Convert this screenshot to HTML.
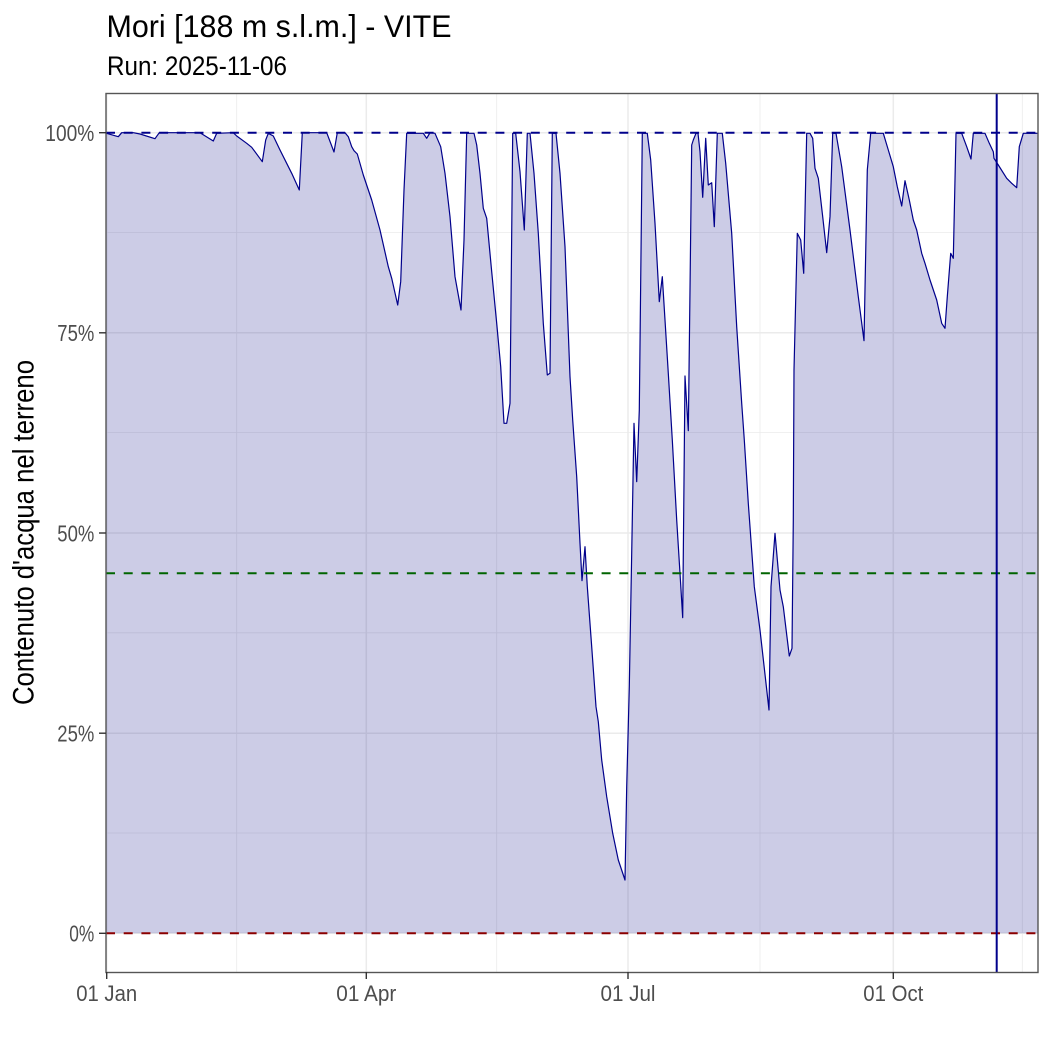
<!DOCTYPE html>
<html>
<head>
<meta charset="utf-8">
<style>
  html, body { margin:0; padding:0; background:#ffffff; }
  svg { display:block; }
  text { font-family: "Liberation Sans", "DejaVu Sans", sans-serif; }
</style>
</head>
<body>
<svg width="1050" height="1050" viewBox="0 0 1050 1050" xmlns="http://www.w3.org/2000/svg">
  <rect x="0" y="0" width="1050" height="1050" fill="#ffffff"/>
  <defs>
    <clipPath id="panel"><rect x="106" y="93" width="932" height="879"/></clipPath>
  </defs>

  <!-- grid -->
  <g stroke="#ebebeb" fill="none">
    <g stroke-width="0.8">
      <line x1="106" y1="232.4" x2="1038" y2="232.4"/>
      <line x1="106" y1="432.6" x2="1038" y2="432.6"/>
      <line x1="106" y1="632.8" x2="1038" y2="632.8"/>
      <line x1="106" y1="833" x2="1038" y2="833"/>
      <line x1="236.7" y1="93" x2="236.7" y2="972"/>
      <line x1="496.7" y1="93" x2="496.7" y2="972"/>
      <line x1="760" y1="93" x2="760" y2="972"/>
      <line x1="1022.3" y1="93" x2="1022.3" y2="972"/>
    </g>
    <g stroke-width="1.5">
      <line x1="106" y1="132.7" x2="1038" y2="132.7"/>
      <line x1="106" y1="332.8" x2="1038" y2="332.8"/>
      <line x1="106" y1="533" x2="1038" y2="533"/>
      <line x1="106" y1="733.2" x2="1038" y2="733.2"/>
      <line x1="106" y1="933.3" x2="1038" y2="933.3"/>
      <line x1="106.7" y1="93" x2="106.7" y2="972"/>
      <line x1="366.3" y1="93" x2="366.3" y2="972"/>
      <line x1="628" y1="93" x2="628" y2="972"/>
      <line x1="893.3" y1="93" x2="893.3" y2="972"/>
    </g>
  </g>

  <g clip-path="url(#panel)">
    <polygon fill="#000080" fill-opacity="0.2" stroke="none" points="
106.5,133.3 118.3,136.7 121.7,132.7 133.3,132.7 140,134 155,138.7 159.3,132.7 200,132.7 213.3,141 216.7,133.3 233.3,132.7 236.7,136 246.7,143.3 251.7,147.3 262.3,161.7 265.7,140 268.3,133.3 273.3,136 280,150 291.7,173.3 299.3,190 302.3,132.7 326.7,132.7 334,152 337.3,132.7 345,132.7 348.3,136.7 351.7,146.7 354,150.7 357.3,154 363.3,175 371.7,200 380,230 388.3,266.7 391.7,278.3 397.7,305 400.7,281.7 404,190 406.7,133.3 423.3,133.3 426.7,138.3 430,132.7 435,133.3 440.7,146.7 445,173.3 450,216.7 455,276.7 458.3,295 461,310 464,240 466.7,133.3 474,133.3 476.7,145 480,173.3 483.3,208.3 486.7,218.3 491.7,271.7 496.7,323.3 500.7,366.7 504,423.3 506.7,423.3 510,403.3 512.7,133.3 515.7,133.3 520,171.7 524.3,230 527.3,133.3 530,133.3 534,173.3 538.3,233.3 543.3,323.3 547.3,375 550,373.3 552.3,133.3 556,133.3 560,173.3 565,246.7 570,376.7 572.7,420 576.7,476.7 580,543.3 582,580.7 585,546.7 587.3,586.7 591.7,646.7 596,706.7 598.3,721.7 601.7,760 606.7,796.7 612.7,833.3 618.3,860 625,880 626.7,786.7 629.3,686.7 631.7,553.3 634,423.3 636.7,481.7 639.3,410 642.3,133.3 647.3,133.3 650.7,160 655,223.3 659.3,301.7 662.3,276.7 665,320 668.3,373.3 672.3,440 676.7,520 680,573.3 682.7,617.7 685,376 688.3,430.7 690,290 691.7,145 693.3,140 696,133.3 698,133.3 700,151.7 702.7,197.3 705.7,138.3 708.3,185 711.7,182.7 714.3,226.7 717.3,133.3 722.3,133.3 725.7,163.3 731.7,233.3 736.7,326.7 741.7,403.3 744.3,440 748.3,503.3 754.3,586.7 760,630 769,710 771,586.7 775,533.3 780,590 783.3,606.7 789.3,656 792,648.3 793.3,520 794,370 797.3,233.3 800.7,240 803.7,273.3 806.7,133.3 810,133.3 812.7,138.3 815,168.3 818.3,178.3 822.7,216.7 826.7,252.7 830,216.7 832.7,133.3 836,133.3 841.7,166.7 850,230 858.3,296.7 864,340.7 867.3,170 870.7,133.3 883.3,133.3 888.3,150 893.3,166.7 897.3,186.7 901.7,206 905,180.7 909.3,200 913.3,220 916.7,230 921.7,253.3 925,263.3 930,280 936.7,300 941.7,323.3 945,328.3 947.3,296.7 950.7,253.3 953.3,258.3 956,133.3 961.7,133.3 966.7,146.7 971,159 973.3,133.3 985,133.3 989.3,143.3 993.3,151.7 994,158.3 998.3,165 1006.7,178.3 1011.7,183.3 1016.7,187.7 1019.3,146.7 1023.3,133.3 1037.5,133.3 1037.5,933.3 106.5,933.3"/>
    <polyline fill="none" stroke="#00008B" stroke-width="1.2" stroke-linejoin="round" points="
106.5,133.3 118.3,136.7 121.7,132.7 133.3,132.7 140,134 155,138.7 159.3,132.7 200,132.7 213.3,141 216.7,133.3 233.3,132.7 236.7,136 246.7,143.3 251.7,147.3 262.3,161.7 265.7,140 268.3,133.3 273.3,136 280,150 291.7,173.3 299.3,190 302.3,132.7 326.7,132.7 334,152 337.3,132.7 345,132.7 348.3,136.7 351.7,146.7 354,150.7 357.3,154 363.3,175 371.7,200 380,230 388.3,266.7 391.7,278.3 397.7,305 400.7,281.7 404,190 406.7,133.3 423.3,133.3 426.7,138.3 430,132.7 435,133.3 440.7,146.7 445,173.3 450,216.7 455,276.7 458.3,295 461,310 464,240 466.7,133.3 474,133.3 476.7,145 480,173.3 483.3,208.3 486.7,218.3 491.7,271.7 496.7,323.3 500.7,366.7 504,423.3 506.7,423.3 510,403.3 512.7,133.3 515.7,133.3 520,171.7 524.3,230 527.3,133.3 530,133.3 534,173.3 538.3,233.3 543.3,323.3 547.3,375 550,373.3 552.3,133.3 556,133.3 560,173.3 565,246.7 570,376.7 572.7,420 576.7,476.7 580,543.3 582,580.7 585,546.7 587.3,586.7 591.7,646.7 596,706.7 598.3,721.7 601.7,760 606.7,796.7 612.7,833.3 618.3,860 625,880 626.7,786.7 629.3,686.7 631.7,553.3 634,423.3 636.7,481.7 639.3,410 642.3,133.3 647.3,133.3 650.7,160 655,223.3 659.3,301.7 662.3,276.7 665,320 668.3,373.3 672.3,440 676.7,520 680,573.3 682.7,617.7 685,376 688.3,430.7 690,290 691.7,145 693.3,140 696,133.3 698,133.3 700,151.7 702.7,197.3 705.7,138.3 708.3,185 711.7,182.7 714.3,226.7 717.3,133.3 722.3,133.3 725.7,163.3 731.7,233.3 736.7,326.7 741.7,403.3 744.3,440 748.3,503.3 754.3,586.7 760,630 769,710 771,586.7 775,533.3 780,590 783.3,606.7 789.3,656 792,648.3 793.3,520 794,370 797.3,233.3 800.7,240 803.7,273.3 806.7,133.3 810,133.3 812.7,138.3 815,168.3 818.3,178.3 822.7,216.7 826.7,252.7 830,216.7 832.7,133.3 836,133.3 841.7,166.7 850,230 858.3,296.7 864,340.7 867.3,170 870.7,133.3 883.3,133.3 888.3,150 893.3,166.7 897.3,186.7 901.7,206 905,180.7 909.3,200 913.3,220 916.7,230 921.7,253.3 925,263.3 930,280 936.7,300 941.7,323.3 945,328.3 947.3,296.7 950.7,253.3 953.3,258.3 956,133.3 961.7,133.3 966.7,146.7 971,159 973.3,133.3 985,133.3 989.3,143.3 993.3,151.7 994,158.3 998.3,165 1006.7,178.3 1011.7,183.3 1016.7,187.7 1019.3,146.7 1023.3,133.3 1037.5,133.3"/>

    <line x1="106" y1="132.8" x2="1038" y2="132.8" stroke="#00008B" stroke-width="2" stroke-dasharray="9 8.7"/>
    <line x1="106" y1="573.2" x2="1038" y2="573.2" stroke="#006400" stroke-width="2" stroke-dasharray="9 8.7"/>
    <line x1="106" y1="933.3" x2="1038" y2="933.3" stroke="#8B0000" stroke-width="2" stroke-dasharray="9 8.7"/>

    <line x1="996.7" y1="93" x2="996.7" y2="972" stroke="#00008B" stroke-width="2"/>
  </g>

  <rect x="106" y="93.5" width="932" height="879" fill="none" stroke="#555555" stroke-width="1.4"/>

  <g stroke="#333333" stroke-width="1.4">
    <line x1="99" y1="132.7" x2="106" y2="132.7"/>
    <line x1="99" y1="332.8" x2="106" y2="332.8"/>
    <line x1="99" y1="533" x2="106" y2="533"/>
    <line x1="99" y1="733.2" x2="106" y2="733.2"/>
    <line x1="99" y1="933.3" x2="106" y2="933.3"/>
    <line x1="106.7" y1="972" x2="106.7" y2="979"/>
    <line x1="366.3" y1="972" x2="366.3" y2="979"/>
    <line x1="628" y1="972" x2="628" y2="979"/>
    <line x1="893.3" y1="972" x2="893.3" y2="979"/>
  </g>

  <g fill="#4d4d4d" font-size="23" text-anchor="end">
    <text x="94.3" y="141" textLength="49" lengthAdjust="spacingAndGlyphs">100%</text>
    <text x="94.3" y="341.1" textLength="37" lengthAdjust="spacingAndGlyphs">75%</text>
    <text x="94.3" y="541.3" textLength="37" lengthAdjust="spacingAndGlyphs">50%</text>
    <text x="94.3" y="741.5" textLength="37" lengthAdjust="spacingAndGlyphs">25%</text>
    <text x="94.3" y="941.6" textLength="25" lengthAdjust="spacingAndGlyphs">0%</text>
  </g>

  <g fill="#4d4d4d" font-size="22" text-anchor="middle">
    <text x="106.7" y="1001" textLength="61" lengthAdjust="spacingAndGlyphs">01 Jan</text>
    <text x="366.3" y="1001" textLength="60" lengthAdjust="spacingAndGlyphs">01 Apr</text>
    <text x="628" y="1001" textLength="55" lengthAdjust="spacingAndGlyphs">01 Jul</text>
    <text x="893.3" y="1001" textLength="60" lengthAdjust="spacingAndGlyphs">01 Oct</text>
  </g>

  <text transform="translate(33.3,532.5) rotate(-90)" text-anchor="middle" font-size="30" fill="#000000" textLength="345" lengthAdjust="spacingAndGlyphs">Contenuto d'acqua nel terreno</text>

  <text x="106.5" y="37" font-size="31.5" fill="#000000" textLength="345" lengthAdjust="spacingAndGlyphs">Mori [188 m s.l.m.] - VITE</text>
  <text x="107" y="75" font-size="26.5" fill="#000000" textLength="180" lengthAdjust="spacingAndGlyphs">Run: 2025-11-06</text>
</svg>
</body>
</html>
